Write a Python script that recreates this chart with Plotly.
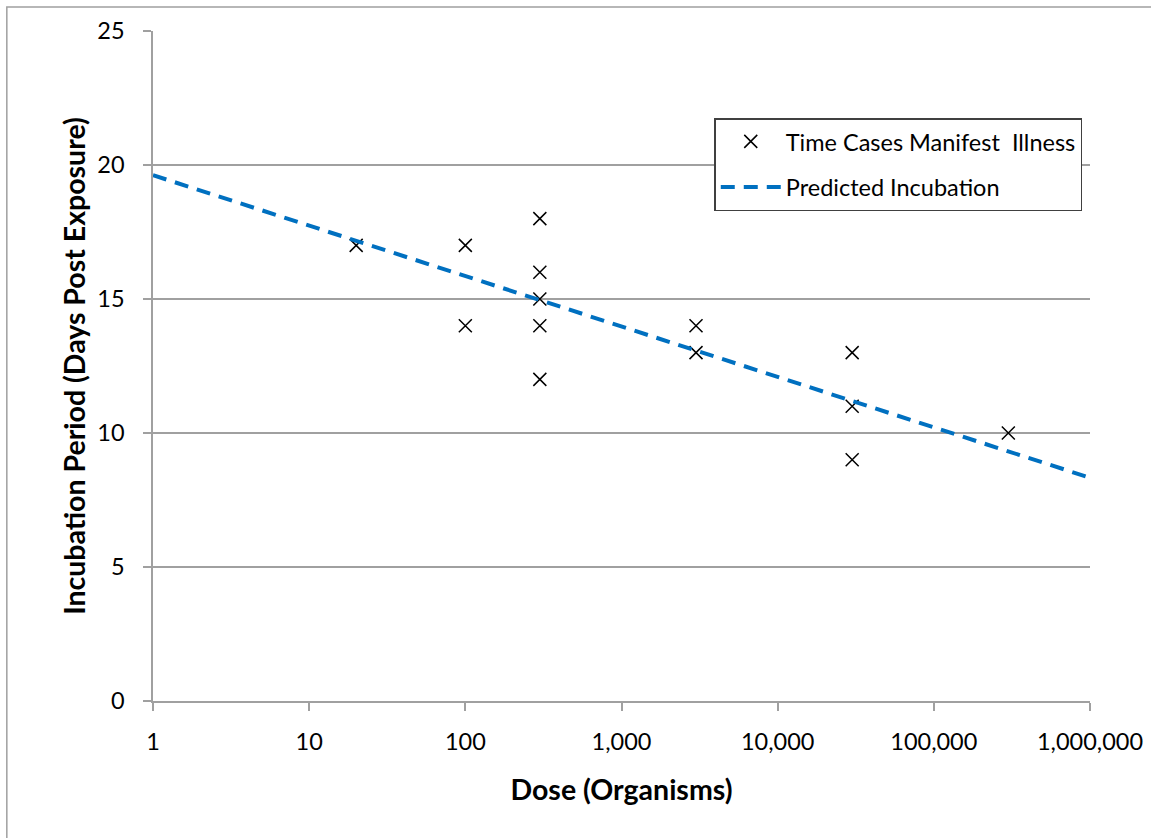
import plotly.graph_objects as go

# Observed cases
dose = [20, 100, 100, 300, 300, 300, 300, 300, 3000, 3000, 30000, 30000, 30000, 300000]
days = [17, 17, 14, 18, 16, 15, 14, 12, 14, 13, 13, 11, 9, 10]

# Predicted incubation line (endpoints of the fitted trend)
pred_dose = [1, 1000000]
pred_days = [19.62, 8.33]

xtick_vals = [1, 10, 100, 1000, 10000, 100000, 1000000]
xtick_text = ["1", "10", "100", "1,000", "10,000", "100,000", "1,000,000"]
ytick_vals = [0, 5, 10, 15, 20, 25]

FONT = "Lato, 'Open Sans', sans-serif"

fig = go.Figure()
fig.add_trace(go.Scatter(
    x=dose, y=days, mode="markers", name="Time Cases Manifest  Illness",
    marker=dict(symbol="x-thin-open", size=13, color="black",
                line=dict(color="black", width=1.5)),
    legendgroup="a",
))
fig.add_trace(go.Scatter(
    x=pred_dose, y=pred_days, mode="lines", name="Predicted Incubation",
    line=dict(color="#0070C0", width=4, dash="14px,9px"),
    legendgroup="b",
))

fig.update_layout(
    width=1151, height=838,
    margin=dict(l=153, r=61, t=31, b=137, autoexpand=False),
    paper_bgcolor="white", plot_bgcolor="white",
    font=dict(family=FONT, size=23, color="black"),
    showlegend=True,
    legend=dict(
        x=0.599, y=0.870, xanchor="left", yanchor="top",
        bordercolor="#404040", borderwidth=1.5, bgcolor="white",
        font=dict(size=23.5, family=FONT, color="black"),
        traceorder="grouped", tracegroupgap=12,
        itemwidth=60,
    ),
    xaxis=dict(
        type="log", range=[0, 6], automargin=False,
        tickvals=xtick_vals, ticktext=xtick_text,
        showgrid=False, zeroline=False,
        showline=True, linecolor="#A0A0A0", linewidth=1.5,
        ticks="outside", ticklen=8, tickcolor="#A0A0A0", tickwidth=1.5,
        ticklabelstandoff=11,
        tickfont=dict(size=23.5, family=FONT),
        title=dict(text="<b>Dose (Organisms)</b>", font=dict(size=28.5, family=FONT), standoff=26),
    ),
    yaxis=dict(
        range=[0, 25], tickvals=ytick_vals, automargin=False,
        showgrid=True, gridcolor="#A0A0A0", gridwidth=1.5,
        zeroline=False,
        showline=True, linecolor="#A0A0A0", linewidth=1.5,
        ticks="outside", ticklen=8, tickcolor="#A0A0A0", tickwidth=1.5,
        ticklabelstandoff=14,
        tickfont=dict(size=23.5, family=FONT),
        title=dict(text="<b>Incubation Period (Days Post Exposure)</b>", font=dict(size=28.5, family=FONT), standoff=3),
    ),
    shapes=[dict(type="rect", xref="paper", yref="paper",
                 x0=-0.156, x1=1.2, y0=-0.3, y1=1.0358,
                 line=dict(color="#A0A0A0", width=1.5), layer="below")],
)

fig.write_html("out.html")
